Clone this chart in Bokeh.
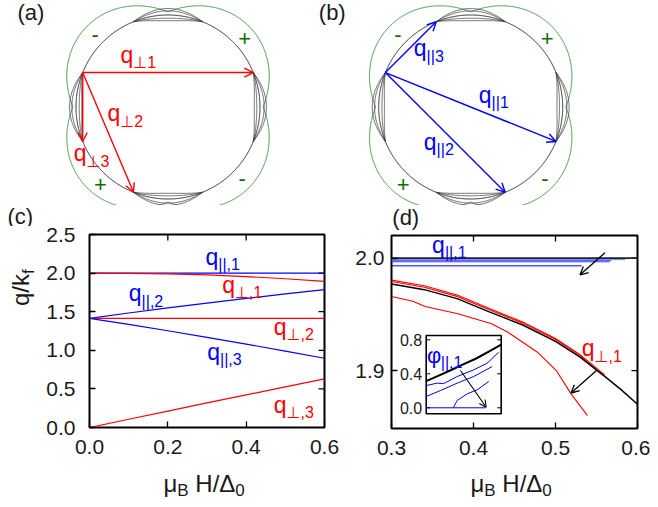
import numpy as np
from bokeh.plotting import figure
from bokeh.models import Range1d, Label, Arrow, OpenHead, FixedTicker, PrintfTickFormatter
from bokeh.layouts import column, row
from bokeh.embed import file_html
from bokeh.resources import INLINE
from bokeh.core.properties import value

FONT = "Liberation Sans, DejaVu Sans"
RED = "#ff0000"
BLUE = "#0000ff"
GREEN_LINE = "#3f8f3f"
GREEN_TXT = "#0a6e0a"
INK = "#1a1a1a"
BASE_FIX = 0.32   # em, lift for the alphabetic baseline of Label text

# ---------------- data ----------------
# (a), (b): Fermi-surface sketches, momenta in units of k_F, angles in degrees
fs_radius = 1.0
gap_base = 1.033
gap_amp = 0.21
node_angles = [0, 90, 180, 270]
pocket_half_width = 22
pocket_bulges = [0.07, 0.045, -0.035, -0.062]
q_start_angle = 158
perp_end_angles = [22, 248, 202]      # q_perp1, q_perp2, q_perp3
par_end_angles = [338, 292, 112]      # q_par1, q_par2, q_par3
sign_angles = [135, 42, 229, 316]
sign_texts = ["-", "+", "+", "-"]
sign_radius = 1.12

# (c): q/k_f versus mu_B H / Delta_0
c_xticks = [0.0, 0.2, 0.4, 0.6]
c_yticks = [0.0, 0.5, 1.0, 1.5, 2.0, 2.5]
H_c = [0.0, 0.1, 0.2, 0.3, 0.4, 0.5, 0.6]
q_par1 = [2.0, 2.0, 2.0, 2.0, 2.0, 2.0, 2.0]
q_par2 = [1.414, 1.483, 1.549, 1.612, 1.672, 1.730, 1.786]
q_par3 = [1.414, 1.335, 1.253, 1.168, 1.080, 0.990, 0.897]
q_perp1 = [2.000, 1.997, 1.990, 1.977, 1.955, 1.927, 1.893]
q_perp2 = [1.414, 1.414, 1.414, 1.414, 1.414, 1.414, 1.414]
q_perp3 = [0.0, 0.107, 0.213, 0.318, 0.422, 0.526, 0.629]

# (d): zoom near q/k_f = 2
d_xticks = [0.3, 0.4, 0.5, 0.6]
d_yticks = [1.9, 2.0]
H_d_black = [0.30, 0.34, 0.38, 0.42, 0.46, 0.50, 0.53, 0.56, 0.58, 0.60]
q_d_black = [1.9770, 1.9720, 1.9640, 1.9520, 1.9405, 1.9260, 1.9120, 1.8948, 1.8830, 1.8700]
H_d_red_a = [0.30, 0.34, 0.38, 0.42, 0.46, 0.50, 0.53, 0.557]
q_d_red_a = [1.9792, 1.9741, 1.9660, 1.9539, 1.9422, 1.9276, 1.9133, 1.8964]
H_d_red_b = [0.30, 0.34, 0.38, 0.42, 0.46, 0.50, 0.53, 0.560]
q_d_red_b = [1.9805, 1.9754, 1.9672, 1.9550, 1.9432, 1.9285, 1.9141, 1.8962]
H_d_red_low = [0.300, 0.326, 0.341, 0.381, 0.422, 0.442, 0.478, 0.501, 0.519, 0.539]
q_d_red_low = [1.9659, 1.9617, 1.9570, 1.9505, 1.9416, 1.9341, 1.9163, 1.9000, 1.8792, 1.8599]
H_d_blue_end = [0.585, 0.568, 0.566, 0.532]
q_d_blue = [1.9987, 1.9978, 1.9968, 1.9932]
q_d_limit = 2.0
arrow_top = [0.5603, 2.0048, 0.5299, 1.9852]
arrow_low = [0.550, 1.900, 0.519, 1.880]

# inset of (d): phi_par,1
H_in_black = [0.30, 0.35, 0.40, 0.45, 0.50, 0.55, 0.60]
phi_in_black = [0.313, 0.379, 0.445, 0.513, 0.580, 0.660, 0.744]
H_in_b1 = [0.300, 0.344, 0.370, 0.424, 0.490, 0.544, 0.590]
phi_in_b1 = [0.262, 0.290, 0.285, 0.368, 0.447, 0.525, 0.654]
H_in_b2 = [0.300, 0.357, 0.424, 0.490, 0.564]
phi_in_b2 = [0.133, 0.203, 0.290, 0.368, 0.486]
H_in_b3 = [0.408, 0.424, 0.464, 0.504, 0.550]
phi_in_b3 = [0.0, 0.086, 0.165, 0.212, 0.309]
H_in_b4 = [0.300, 0.537]
phi_in_b4 = [0.0, 0.0]
inset_ticks = [0.0, 0.4, 0.8]
inset_box = [0.30, 0.60, -0.0706, 0.8506]
arrow_inset = [0.437, 0.439, 0.540, 0.007]

# ---------------- helpers ----------------
W = {'q': 0.556, 'μ': 0.576, 'B': 0.667, ' ': 0.278, 'H': 0.722, '/': 0.278,
     'Δ': 0.668, 'k': 0.5, 'f': 0.278, 'φ': 0.62, '0': 0.556}


def tw(s, size):
    return sum(W.get(c, 0.556) for c in s) * size


def rich(p, x, y, pieces, color, angle=0.0):
    off = 0.0
    for text, size, dy in pieces:
        if text.startswith(" "):          # leading blanks become plain advance
            off += tw(text[:len(text) - len(text.lstrip(" "))], size)
            text = text.lstrip(" ")
        lift = BASE_FIX * size
        if angle == 0.0:
            lab = Label(x=x, y=y, x_offset=off, y_offset=-dy + lift, text=text)
        else:
            lab = Label(x=x, y=y, x_offset=dy - lift, y_offset=off, text=text, angle=angle)
        lab.text_color = color
        lab.text_font = FONT
        lab.text_font_size = f"{size}px"
        lab.text_baseline = "alphabetic"
        lab.text_align = "left"
        p.add_layout(lab)
        off += tw(text, size)


def plain(p, x, y, text, color, size):
    p.add_layout(Label(x=x, y=y, y_offset=BASE_FIX * size, text=text, text_color=color,
                       text_font=FONT, text_font_size=f"{size}px", text_align="left",
                       text_baseline="alphabetic"))


def sign(p, x, y, text, color, size):
    p.add_layout(Label(x=x, y=y, text=text, text_color=color, text_font=FONT,
                       text_font_size=f"{size}px", text_align="center",
                       text_baseline="middle"))


def style_axis(ax, ticks, standoff):
    ax.ticker = FixedTicker(ticks=ticks)
    ax.formatter = PrintfTickFormatter(format="%.1f")
    ax.major_tick_in = 6
    ax.major_tick_out = 0
    ax.minor_tick_line_color = None
    ax.axis_line_color = None
    ax.major_tick_line_color = "black"
    ax.major_tick_line_width = 1.3
    ax.major_label_text_font = FONT
    ax.major_label_text_font_size = "21px"
    ax.major_label_text_color = INK
    ax.major_label_standoff = standoff


def mirror_ticks(p, xticks, yticks, x1, y1, len_x, len_y):
    # ticks on the top and right edges of the frame, pointing inwards
    p.segment(x0=xticks, y0=[y1] * len(xticks), x1=xticks, y1=[y1 - len_y] * len(xticks),
              line_color="black", line_width=1.3)
    p.segment(x0=[x1] * len(yticks), y0=yticks, x1=[x1 - len_x] * len(yticks), y1=yticks,
              line_color="black", line_width=1.3)


def blank(width, height, x0, x1, y0, y1):
    p = figure(width=width, height=height, x_range=Range1d(x0, x1),
               y_range=Range1d(y0, y1), output_backend="svg",
               toolbar_location=None, x_axis_location=None,
               y_axis_location=None, min_border=0, outline_line_color=None)
    p.xgrid.visible = False
    p.ygrid.visible = False
    return p


TOP_H = 205
ROW2_H = 261
XL_H = 499 - TOP_H - ROW2_H
LT_H = 233 - TOP_H          # height of the strip holding "(d)"
CT_H = 226 - TOP_H          # height of the strip holding "(c)"
R = 92.0                    # px per k_F in the sketches
CY = 106.5                  # sketch centre, px from top


def fs_panel(width, cx, label, label_xy, ends, color, names, name_pos):
    p = blank(width, TOP_H, -cx / R, (width - cx) / R, -(TOP_H - CY) / R, CY / R)
    th = np.radians(np.linspace(0, 360, 1441))
    rg = gap_base + gap_amp * np.abs(np.sin(2 * th))
    p.line(rg * np.cos(th), rg * np.sin(th), line_color=GREEN_LINE, line_width=1.0)
    p.line(fs_radius * np.cos(th), fs_radius * np.sin(th), line_color="#111111",
           line_width=0.9)
    for n in node_angles:
        ph = np.linspace(-pocket_half_width, pocket_half_width, 81)
        for b in pocket_bulges:
            r = fs_radius * (1 + b * np.cos(np.pi * ph / (2 * pocket_half_width)))
            a = np.radians(n + ph)
            p.line(r * np.cos(a), r * np.sin(a), line_color="#333333", line_width=0.7)
    for a, s in zip(sign_angles, sign_texts):
        ar = np.radians(a)
        sign(p, sign_radius * np.cos(ar), sign_radius * np.sin(ar), s, GREEN_TXT, 22)
    a0 = np.radians(q_start_angle)
    for e in ends:
        ae = np.radians(e)
        p.add_layout(Arrow(end=OpenHead(size=9, line_color=color, line_width=1.4),
                           x_start=fs_radius * np.cos(a0), y_start=fs_radius * np.sin(a0),
                           x_end=fs_radius * np.cos(ae), y_end=fs_radius * np.sin(ae),
                           line_color=color, line_width=1.4))
    for nm, (x, y) in zip(names, name_pos):
        rich(p, x, y, [("q", 23, 0), (nm, 16, 5.5)], color)
    plain(p, label_xy[0], label_xy[1], label, INK, 22)
    return p


pa = fs_panel(316, 167.5, "(a)", (-1.636, 0.9457), perp_end_angles, RED,
              ["⊥1", "⊥2", "⊥3"],
              [(-0.5163, 0.4837), (-0.6576, -0.15), (-1.0239, -0.5848)])
pb = fs_panel(334, 154.2, "(b)", (-1.651, 0.9457), par_end_angles, BLUE,
              ["||1", "||2", "||3"],
              [(0.088, 0.0489), (-0.5098, -0.4587), (-0.6185, 0.5565)])

# ---------------- left block: "(c)" strip, y title strip, panel (c) ----------------
ctop = blank(345, CT_H, 0, 345, 0, CT_H)                   # y = 226 - page y
plain(ctop, 7, 226 - 223, "(c)", INK, 22)

YL_W = 42
C_H = ROW2_H - CT_H
ylab = blank(YL_W, C_H, 0, YL_W, 0, C_H)                   # y = 466 - page y
rich(ylab, 28, TOP_H + ROW2_H - 315, [("q/k", 24, 0), ("f", 17, 5)], INK, angle=np.pi / 2)

pc = figure(width=345 - YL_W, height=C_H, x_range=Range1d(0, 0.6),
            y_range=Range1d(0, 2.5), output_backend="svg", toolbar_location=None,
            min_border_left=89 - YL_W, min_border_right=345 - 89 - 235,
            min_border_top=234 - 226, min_border_bottom=C_H - (234 - 226) - 193,
            outline_line_color="black", outline_line_width=2)
pc.xgrid.visible = False
pc.ygrid.visible = False
style_axis(pc.below[0], c_xticks, standoff=12)
style_axis(pc.left[0], c_yticks, standoff=14)
mirror_ticks(pc, c_xticks[1:-1], c_yticks[1:-1], 0.6, 2.5, 6 * 0.6 / 235, 6 * 2.5 / 193)

pc.line(H_c, q_par1, line_color=BLUE, line_width=1.2)
pc.line(H_c, q_perp1, line_color=RED, line_width=1.2)
pc.line(H_c, q_par2, line_color=BLUE, line_width=1.2)
pc.line(H_c, q_perp2, line_color=RED, line_width=1.2)
pc.line(H_c, q_par3, line_color=BLUE, line_width=1.2)
pc.line(H_c, q_perp3, line_color=RED, line_width=1.2)

rich(pc, 0.2962, 2.118, [("q", 23, 0), ("||,1", 16, 5.5)], BLUE)
rich(pc, 0.3388, 1.750, [("q", 23, 0), ("⊥,1", 16, 5.5)], RED)
rich(pc, 0.1003, 1.642, [("q", 23, 0), ("||,2", 16, 5.5)], BLUE)
rich(pc, 0.4706, 1.208, [("q", 23, 0), ("⊥,2", 16, 5.5)], RED)
rich(pc, 0.3005, 0.8836, [("q", 23, 0), ("||,3", 16, 5.5)], BLUE)
rich(pc, 0.4706, 0.200, [("q", 23, 0), ("⊥,3", 16, 5.5)], RED)

# ---------------- (d) ----------------
dtop = blank(305, LT_H, 0, 305, 0, LT_H)          # pixel units: x = page x - 345
plain(dtop, 1, 233 - 224, "(d)", INK, 22)

PD_H = ROW2_H - LT_H
pd = figure(width=305, height=PD_H, x_range=Range1d(0.3, 0.6),
            y_range=Range1d(1.8484, 2.0202),
            output_backend="svg", toolbar_location=None,
            min_border_left=46, min_border_right=13, min_border_top=235 - 233,
            min_border_bottom=PD_H - 2 - 193, outline_line_color="black",
            outline_line_width=2)
pd.xgrid.visible = False
pd.ygrid.visible = False
style_axis(pd.below[0], d_xticks, standoff=12)
style_axis(pd.left[0], d_yticks, standoff=7)
mirror_ticks(pd, d_xticks[1:-1], d_yticks, 0.6, 2.0202, 6 * 0.3 / 246, 6 * 0.1718 / 193)

pd.line([0.3, 0.6], [q_d_limit, q_d_limit], line_color="#222222", line_width=1.8)
blue_cols = ["#7080ff", "#4050ff", "#3040ff", "#0000ff"]
for xe, qv, col in zip(H_d_blue_end, q_d_blue, blue_cols):
    pd.line([0.3, xe], [qv, qv], line_color=col, line_width=1.0)
pd.line(H_d_red_b, q_d_red_b, line_color=RED, line_width=1.1)
pd.line(H_d_red_a, q_d_red_a, line_color=RED, line_width=1.1)
pd.line(H_d_black, q_d_black, line_color="black", line_width=1.5)
pd.line(H_d_red_low, q_d_red_low, line_color=RED, line_width=1.1)
for a in (arrow_top, arrow_low):
    pd.add_layout(Arrow(end=OpenHead(size=8, line_color="black", line_width=1.3),
                        x_start=a[0], y_start=a[1], x_end=a[2], y_end=a[3],
                        line_color="black", line_width=1.3))

# inset drawn through its own ranges
pd.extra_x_ranges = {"ix": Range1d(0.1612, 1.1452)}
pd.extra_y_ranges = {"iy": Range1d(-0.2435, 2.0271)}
ib = inset_box
pd.quad(left=[ib[0]], right=[ib[1]], bottom=[ib[2]], top=[ib[3]], fill_color="white",
        line_color="black", line_width=1.6, x_range_name="ix", y_range_name="iy")
pd.line(H_in_b4, phi_in_b4, line_color=BLUE, line_width=1.0, x_range_name="ix", y_range_name="iy")
pd.line(H_in_b3, phi_in_b3, line_color=BLUE, line_width=1.0, x_range_name="ix", y_range_name="iy")
pd.line(H_in_b2, phi_in_b2, line_color=BLUE, line_width=1.0, x_range_name="ix", y_range_name="iy")
pd.line(H_in_b1, phi_in_b1, line_color=BLUE, line_width=1.0, x_range_name="ix", y_range_name="iy")
pd.line(H_in_black, phi_in_black, line_color="black", line_width=2.0, x_range_name="ix", y_range_name="iy")
tick_len = 0.016
pd.segment(x0=[ib[0]] * 3, y0=inset_ticks, x1=[ib[0] + tick_len] * 3, y1=inset_ticks,
           line_color="black", line_width=1.0, x_range_name="ix", y_range_name="iy")
pd.segment(x0=[ib[1] - tick_len] * 3, y0=inset_ticks, x1=[ib[1]] * 3, y1=inset_ticks,
           line_color="black", line_width=1.0, x_range_name="ix", y_range_name="iy")
pd.text(x=[ib[0]] * 3, y=inset_ticks, text=["%.1f" % t for t in inset_ticks],
        x_offset=-4, text_align="right", text_baseline="middle",
        text_font=value(FONT), text_font_size="16px", text_color=INK,
        x_range_name="ix", y_range_name="iy")
ai = arrow_inset
pd.add_layout(Arrow(end=OpenHead(size=7, line_color="black", line_width=1.1),
                    x_start=ai[0], y_start=ai[1], x_end=ai[2], y_end=ai[3],
                    line_color="black", line_width=1.1,
                    x_range_name="ix", y_range_name="iy"))

rich(pd, 0.3495, 2.0051, [("q", 23, 0), ("||,1", 16, 5.5)], BLUE)
rich(pd, 0.532, 1.9131, [("q", 23, 0), ("⊥,1", 16, 5.5)], RED)
rich(pd, 0.3434, 1.9071, [("φ", 22, 0), ("||,1", 16, 5.5)], BLUE)

# ---------------- x title strip (pixel units: y = 499 - page y) ----------------
xlab = blank(650, XL_H, 0, 650, 0, XL_H)
xpieces = [("μ", 24, 0), ("B", 17, 4), (" H/Δ", 24, 0), ("0", 17, 4)]
rich(xlab, 163, 8, xpieces, INK)
rich(xlab, 470, 8, xpieces, INK)

layout = column(row(pa, pb),
                row(column(ctop, row(ylab, pc)), column(dtop, pd)),
                xlab)
open("out.html", "w").write(file_html(layout, INLINE))
